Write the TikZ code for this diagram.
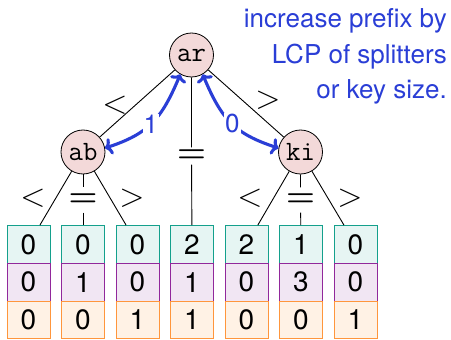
\documentclass[tikz,border=0pt]{standalone}
\usepackage{fix-cm}
\usepackage{fontspec}
\newfontfamily\hv{TeX Gyre Heros}
\usetikzlibrary{arrows.meta}

\definecolor{noteblue}{RGB}{42,62,214}
\definecolor{tealline}{RGB}{20,160,140}
\definecolor{tealfill}{RGB}{230,245,243}
\definecolor{purpline}{RGB}{145,40,155}
\definecolor{purpfill}{RGB}{241,230,243}
\definecolor{orline}{RGB}{255,150,60}
\definecolor{orfill}{RGB}{255,242,229}
\definecolor{keyfill}{RGB}{243,217,217}

\tikzset{
  key/.style={circle, draw=black, fill=keyfill, line width=0.8pt,
    minimum size=44pt, inner sep=0pt, font=\fontsize{28}{28}\ttfamily},
  cell/.style={draw, line width=1pt, minimum width=43pt, minimum height=37.7pt,
    inner sep=0pt, font=\fontsize{28}{28}\hv},
  rowa/.style={cell, draw=tealline, fill=tealfill},
  rowb/.style={cell, draw=purpline, fill=purpfill},
  rowc/.style={cell, draw=orline, fill=orfill},
  rel/.style={inner sep=0pt, font=\fontsize{33}{33}\selectfont},
  releq/.style={inner sep=0pt, font=\fontsize{33}{33}\selectfont\boldmath,
    fill=white, inner xsep=1pt, inner ysep=#1},
  tree/.style={line width=0.9pt},
  lcp/.style={draw=noteblue, line width=3.1pt,
    {Computer Modern Rightarrow[length=7pt,width=17pt]}-{Computer Modern Rightarrow[length=7pt,width=17pt]}},
  lcplabel/.style={fill=white, inner sep=1pt, text=noteblue, font=\fontsize{26}{26}\hv}
}

\begin{document}
\begin{tikzpicture}[x=1pt, y=-1pt]
  \useasboundingbox (0,0) rectangle (451,340);

  % splitter keys
  \node[key] (ar) at (191.5,55) {ar};
  \node[key] (ab) at (83,152) {ab};
  \node[key] (ki) at (300.5,152) {ki};

  % bucket columns: three counters each
  \foreach \i/\a/\b/\c in {1/0/0/0, 2/0/1/0, 3/0/0/1, 4/2/1/1, 5/2/0/0, 6/1/3/0, 7/0/0/1} {
    \pgfmathsetmacro{\cx}{28.5+54.5*(\i-1)}
    \node[rowa] (c\i a) at (\cx,244.5) {\a};
    \node[rowb] (c\i b) at (\cx,282.2) {\b};
    \node[rowc] (c\i c) at (\cx,319.9) {\c};
  }

  % relation labels
  \node[rel] (ltA) at (115,105) {$<$};
  \node[rel] (gtA) at (268,100) {$>$};
  \node[releq=2pt] (eqA) at (191.5,156) {$=$};
  \node[rel] (lt1) at (33,198) {$<$};
  \node[releq=6pt] (eq1) at (83,200) {$=$};
  \node[rel] (gt1) at (132,198) {$>$};
  \node[rel] (lt2) at (250,198) {$<$};
  \node[releq=6pt] (eq2) at (300.5,200) {$=$};
  \node[rel] (gt2) at (350,198) {$>$};

  % tree edges
  \draw[tree] (ar) -- (ab);
  \draw[tree] (ar) -- (ki);
  \draw[tree] (ar) -- (eqA) -- (c4a);
  \draw[tree] (ab) -- (c1a);
  \draw[tree] (ab) -- (eq1) -- (c2a);
  \draw[tree] (ab) -- (c3a);
  \draw[tree] (ki) -- (c5a);
  \draw[tree] (ki) -- (eq2) -- (c6a);
  \draw[tree] (ki) -- (c7a);

  % prefix increments
  \draw[lcp] (ar.-120) .. controls (161.5,119) and (149,133.5) ..
    node[pos=0.52, lcplabel] (one) {1} (ab.10);
  \draw[lcp] (ar.-60) .. controls (221.5,119) and (234,133.5) ..
    node[pos=0.52, lcplabel] (zero) {0} (ki.170);

  \node[anchor=north east, align=right, inner sep=0pt, text=noteblue,
    font=\fontsize{26}{35.5}\hv] (note) at (447,8.5)
    {increase prefix by\\LCP of splitters\\or key size.};
\end{tikzpicture}
\end{document}
